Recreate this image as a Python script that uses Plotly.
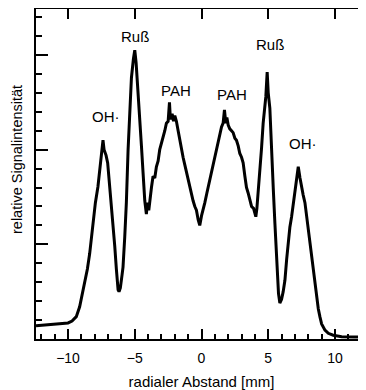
import plotly.graph_objects as go

# radial distance [mm]
radial_mm = [
    -12.4, -11.5, -10.5, -10.0, -9.7, -9.38, -9.13, -8.95, -8.75, -8.55, -8.38, -8.25, -8.13,
    -7.95, -7.76, -7.62, -7.5, -7.42, -7.38, -7.3, -7.15, -7.03, -6.9, -6.75, -6.62, -6.5,
    -6.38, -6.25, -6.18, -6.08, -5.95, -5.88, -5.75, -5.63, -5.5, -5.38, -5.25, -5.1, -5.0,
    -4.9, -4.77, -4.63, -4.5, -4.38, -4.25, -4.13, -4.05, -3.95, -3.85, -3.75, -3.63, -3.5,
    -3.38, -3.25, -3.13, -3.0, -2.88, -2.75, -2.63, -2.5, -2.4, -2.33, -2.2, -2.1, -2.0,
    -1.88, -1.75, -1.63, -1.5, -1.38, -1.25, -1.1, -1.0, -0.85, -0.63, -0.5, -0.38, -0.25,
    -0.13, 0.0, 0.12, 0.25, 0.4, 0.62, 0.8, 1.0, 1.12, 1.25, 1.38, 1.5, 1.62, 1.72, 1.82,
    1.9, 2.0, 2.12, 2.25, 2.37, 2.5, 2.62, 2.75, 2.87, 3.0, 3.12, 3.25, 3.37, 3.5, 3.62,
    3.75, 3.9, 4.0, 4.07, 4.15, 4.25, 4.37, 4.5, 4.62, 4.75, 4.82, 4.92, 5.0, 5.12, 5.25,
    5.38, 5.5, 5.6, 5.67, 5.77, 5.87, 6.0, 6.12, 6.25, 6.38, 6.5, 6.62, 6.75, 6.88, 7.0,
    7.12, 7.25, 7.38, 7.5, 7.62, 7.75, 7.88, 8.0, 8.12, 8.25, 8.38, 8.5, 8.62, 8.75, 8.87,
    9.0, 9.25, 9.5, 9.87, 10.5, 11.5, 12.4,
]

# relative signal intensity (arbitrary units)
signal = [
    0.70, 0.75, 0.80, 0.85, 0.95, 1.18, 1.7, 2.3, 2.95, 3.7, 4.5, 5.4, 6.3,
    7.2, 8.04, 9.0, 9.8, 10.2, 10.5, 10.0, 9.7, 9.3, 8.3, 7.2, 6.0, 4.9,
    3.7, 2.6, 2.5, 2.7, 3.4, 3.8, 5.4, 7.2, 10.0, 12.0, 13.8, 14.8, 15.25,
    14.6, 13.3, 11.8, 10.2, 8.8, 7.3, 6.6, 7.2, 6.8, 7.6, 8.0, 8.6, 8.5,
    9.1, 9.4, 10.0, 10.3, 10.7, 11.0, 11.4, 11.5, 12.5, 11.6, 11.9, 11.5, 11.8,
    11.5, 11.0, 10.5, 10.0, 9.6, 9.2, 8.7, 8.4, 7.9, 7.3, 7.0, 6.8, 6.3,
    6.0, 6.5, 6.8, 7.2, 7.7, 8.4, 9.0, 9.6, 10.1, 10.5, 10.8, 11.2, 11.4, 12.1, 11.4,
    11.7, 11.3, 11.1, 11.0, 10.9, 10.6, 10.5, 10.2, 9.8, 9.6, 9.3, 8.6, 8.0, 7.7, 7.3,
    7.0, 6.9, 6.6, 6.46, 6.9, 7.7, 8.75, 10.1, 11.4, 12.4, 12.8, 14.1, 13.0, 12.2, 9.6,
    7.9, 6.1, 4.7, 3.5, 2.4, 1.9, 2.1, 2.5, 3.1, 4.2, 5.2, 5.9, 6.46, 7.2, 7.9,
    8.5, 9.1, 8.5, 8.0, 7.6, 7.2, 6.46, 5.7, 4.87, 4.2, 3.5, 2.76, 2.2, 1.6, 1.18,
    0.8, 0.47, 0.3, 0.2, 0.12, 0.1, 0.1,
]

# peak labels
label_text = ["OH·", "Ruß", "PAH", "PAH", "Ruß", "OH·"]
label_x = [-7.18, -5.0, -1.93, 2.27, 5.12, 7.6]
label_y = [11.73, 16.0, 13.15, 12.94, 15.58, 10.35]

x_range = [-12.4, 12.4]
y_range = [0, 17.43]

FONT = "Arial, Liberation Sans, Helvetica, sans-serif"

fig = go.Figure()
fig.add_trace(go.Scatter(
    x=radial_mm, y=signal, mode="lines",
    line=dict(color="black", width=3, shape="linear"),
    showlegend=False, hoverinfo="skip",
))
# invisible trace to activate the top/right tick axes
fig.add_trace(go.Scatter(
    x=radial_mm, y=signal, mode="lines", xaxis="x2", yaxis="y2",
    line=dict(color="rgba(0,0,0,0)", width=0),
    showlegend=False, hoverinfo="skip",
))

for t, x, y in zip(label_text, label_x, label_y):
    fig.add_annotation(x=x, y=y, xref="x", yref="y", text=t, showarrow=False,
                       font=dict(family=FONT, size=15, color="black"))

# y-axis title as rotated annotation
fig.add_annotation(x=-0.0574, y=0.5424, xref="paper", yref="paper",
                   text="relative Signalintensität", textangle=-90, showarrow=False,
                   xanchor="center", yanchor="middle",
                   font=dict(family=FONT, size=14.5, color="black"))

fig.update_layout(
    template="none",
    width=359, height=382,
    margin=dict(l=28, r=0, t=1, b=51, pad=0),
    paper_bgcolor="white", plot_bgcolor="white",
    font=dict(family=FONT, color="black"),
    xaxis=dict(
        range=x_range, showgrid=False, zeroline=False, automargin=False,
        showline=True, linewidth=2, linecolor="black", mirror=True,
        ticks="inside", ticklen=10, tickwidth=2, tickcolor="black",
        tickmode="linear", tick0=0, dtick=5, ticklabelstandoff=5,
        minor=dict(ticks="inside", ticklen=5, tickwidth=1.5, tickcolor="black", dtick=1, tick0=0, showgrid=False),
        tickfont=dict(size=14, family=FONT),
        title=dict(text="radialer Abstand [mm]", font=dict(size=15, family=FONT), standoff=13),
    ),
    yaxis=dict(
        range=y_range, showgrid=False, zeroline=False, automargin=False,
        showline=True, linewidth=2, linecolor="black", mirror=True,
        ticks="inside", ticklen=12, tickwidth=2, tickcolor="black",
        tickmode="linear", tick0=0, dtick=5, showticklabels=False,
        minor=dict(ticks="inside", ticklen=6, tickwidth=1.5, tickcolor="black", dtick=1, tick0=0, showgrid=False),
    ),
    xaxis2=dict(
        range=x_range, overlaying="x", side="top", anchor="y", automargin=False,
        showgrid=False, zeroline=False, showline=False,
        ticks="inside", ticklen=10, tickwidth=2, tickcolor="black",
        tickmode="linear", tick0=0, dtick=5, showticklabels=False,
    ),
    yaxis2=dict(
        range=y_range, overlaying="y", side="right", anchor="x", automargin=False,
        showgrid=False, zeroline=False, showline=False,
        ticks="inside", ticklen=8, tickwidth=2, tickcolor="black",
        tickmode="linear", tick0=0, dtick=5, showticklabels=False,
    ),
)

fig.write_html("out.html")
